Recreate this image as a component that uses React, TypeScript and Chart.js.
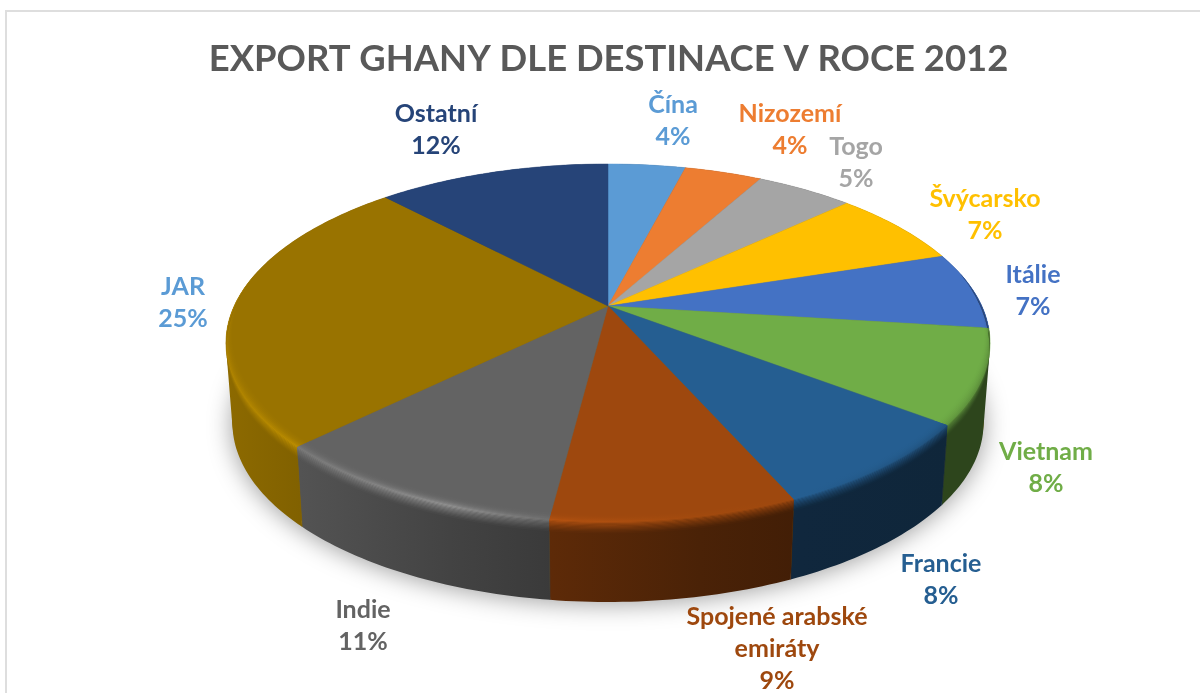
import React, { useEffect, useRef } from "react";
import { Chart, registerables } from "chart.js";

Chart.register(...registerables);

const categories: (string | string[])[] = ["Čína", "Nizozemí", "Togo", "Švýcarsko", "Itálie", "Vietnam", "Francie", ["Spojené arabské", "emiráty"], "Indie", "JAR", "Ostatní"];
const shares = [4, 4, 5, 7, 7, 8.4, 8, 8.6, 10.6, 25.4, 12];
const sliceColors = ["#5b9bd5", "#ed7d31", "#a5a5a5", "#ffc000", "#4472c4", "#70ad47", "#255e91", "#9e480e", "#636363", "#997300", "#264478"];
const labelColors = ["#5b9bd5", "#ed7d31", "#a5a5a5", "#ffc000", "#4472c4", "#70ad47", "#255e91", "#9e480e", "#636363", "#5b9bd5", "#264478"];
const labelCenters: number[][] = [[673, 105], [790, 114], [856, 147], [985, 199], [1033, 275], [1046, 452], [941, 564], [777, 617], [363, 610], [183, 287], [436, 114]];
const chartTitle = "EXPORT GHANY DLE DESTINACE V ROCE 2012";

// projection of the pie disc (perspective view)
const CX = 608, Y0 = 306, K = 0.2067, A = 373.8, B = 171.35, DEPTH = 80, TAPER = 0.017;
const BEVEL_IN = 0.035, BEVEL_DOWN = 11, BEVEL_STRIPS = 18;
const shadeX = [225, 300, 450, 552, 700, 800, 950, 990];
const wallShade = [0.92, 0.84, 0.68, 0.59, 0.47, 0.42, 0.4, 0.4];
const rimShade = [1.15, 1.25, 1.5, 1.15, 1.03, 1, 0.85, 0.8];

const project = (ang: number, r = 1, depth = 0): [number, number] => {
  const den = 1 - K * r * Math.sin(ang);
  const s = 1 - (TAPER * depth) / DEPTH;
  return [CX + (A * r * Math.cos(ang) * s) / den, Y0 + (B * r * Math.sin(ang)) / den + depth];
};

const hexRgb = (h: string) => [1, 3, 5].map((i) => parseInt(h.slice(i, i + 2), 16));
const css = (c: number[]) => `rgb(${c.map((v) => Math.max(0, Math.min(255, Math.round(v)))).join(",")})`;

const stripColor = (base: number[], i: number, t: number) => {
  // t: -1 top face, 0 rim, 1 wall
  const m = t <= 0
    ? 1 + (rimShade[i] - 1) * Math.pow(1 + t, 2.5)
    : rimShade[i] + (wallShade[i] - rimShade[i]) * Math.pow(t, 0.7);
  return base.map((v) => v * m);
};

const xGradient = (ctx: CanvasRenderingContext2D, base: number[], t: number) => {
  const g = ctx.createLinearGradient(shadeX[0], 0, shadeX[shadeX.length - 1], 0);
  shadeX.forEach((x, i) => {
    g.addColorStop((x - shadeX[0]) / (shadeX[shadeX.length - 1] - shadeX[0]), css(stripColor(base, i, t)));
  });
  return g;
};

const samples = (a0: number, a1: number) => {
  const n = Math.max(2, Math.ceil(Math.abs(a1 - a0) / (Math.PI / 180)));
  return Array.from({ length: n + 1 }, (_, i) => a0 + ((a1 - a0) * i) / n);
};

const signedArea = (p: [number, number][]) =>
  p.reduce((s, [x, y], i) => {
    const [nx, ny] = p[(i + 1) % p.length];
    return s + x * ny - nx * y;
  }, 0);

const pie3d = {
  id: "pie3d",
  beforeDatasetDraw(chart: any) {
    const ctx: CanvasRenderingContext2D = chart.ctx;
    const arcs = chart.getDatasetMeta(0).data;
    ctx.save();
    ctx.lineJoin = "round";

    // soft ground shadow
    ctx.save();
    ctx.shadowColor = "rgba(0,0,0,0.38)";
    ctx.shadowBlur = 24;
    ctx.shadowOffsetY = 8;
    ctx.fillStyle = "#8a6a10";
    ctx.beginPath();
    samples(0, Math.PI * 2).forEach((a, i) => {
      const [x, y] = project(a, 1, DEPTH - 6);
      i ? ctx.lineTo(x, y) : ctx.moveTo(x, y);
    });
    ctx.closePath();
    ctx.fill();
    ctx.restore();

    // walls: the sweep of the rim, as same-winding quads in a single path
    arcs.forEach((arc: any, idx: number) => {
      const g = xGradient(ctx, hexRgb(sliceColors[idx]), 1);
      ctx.fillStyle = g;
      ctx.strokeStyle = g;
      ctx.lineWidth = 0.6;
      const pts = samples(arc.startAngle, arc.endAngle);
      ctx.beginPath();
      for (let i = 0; i + 1 < pts.length; i++) {
        let p = [project(pts[i]), project(pts[i + 1]), project(pts[i + 1], 1, DEPTH), project(pts[i], 1, DEPTH)];
        if (signedArea(p) < 0) p = p.reverse();
        p.forEach(([x, y], j) => (j ? ctx.lineTo(x, y) : ctx.moveTo(x, y)));
        ctx.closePath();
      }
      ctx.fill();
      const [sx, sy] = project(pts[0]);
      const [bx, by] = project(pts[0], 1, DEPTH);
      ctx.beginPath();
      ctx.moveTo(sx, sy);
      ctx.lineTo(bx, by);
      ctx.stroke();
    });

    // top faces
    arcs.forEach((arc: any, idx: number) => {
      ctx.fillStyle = sliceColors[idx];
      ctx.strokeStyle = sliceColors[idx];
      ctx.lineWidth = 0.5;
      ctx.beginPath();
      ctx.moveTo(CX, Y0);
      samples(arc.startAngle, arc.endAngle).forEach((a) => {
        const [x, y] = project(a);
        ctx.lineTo(x, y);
      });
      ctx.closePath();
      ctx.fill();
      ctx.stroke();
    });

    // bevelled rim
    const w = (a: number) => Math.max(0, Math.min(1, (Math.sin(a) + 0.2) / 0.7));
    const ringPoint = (a: number, t: number) =>
      t <= 0 ? project(a, 1 + BEVEL_IN * t * w(a), 0) : project(a, 1, BEVEL_DOWN * t * w(a));
    arcs.forEach((arc: any, idx: number) => {
      const base = hexRgb(sliceColors[idx]);
      const pts = samples(arc.startAngle, arc.endAngle).filter((a) => Math.sin(a) > -0.2);
      if (pts.length < 2) return;
      for (let s = 0; s < BEVEL_STRIPS; s++) {
        const t0 = -1 + (2 * s) / BEVEL_STRIPS;
        const t1 = -1 + (2 * (s + 1)) / BEVEL_STRIPS;
        const g = xGradient(ctx, base, (t0 + t1) / 2);
        ctx.fillStyle = g;
        ctx.beginPath();
        pts.forEach((a, i) => {
          const [x, y] = ringPoint(a, t0);
          i ? ctx.lineTo(x, y) : ctx.moveTo(x, y);
        });
        [...pts].reverse().forEach((a) => {
          const [x, y] = ringPoint(a, t1 + 0.03);
          ctx.lineTo(x, y);
        });
        ctx.closePath();
        ctx.fill();
      }
    });
    ctx.restore();
    return false;
  },
  afterDraw(chart: any) {
    const ctx: CanvasRenderingContext2D = chart.ctx;
    const total = shares.reduce((s, v) => s + v, 0);
    ctx.save();
    ctx.font = 'bold 25px Lato';
    ctx.textAlign = "center";
    ctx.textBaseline = "middle";
    categories.forEach((cat, i) => {
      const lines = [...(Array.isArray(cat) ? cat : [cat]), `${Math.round((shares[i] / total) * 100)}%`];
      ctx.fillStyle = labelColors[i];
      lines.forEach((ln, j) => ctx.fillText(ln, labelCenters[i][0], labelCenters[i][1] + j * 32));
    });
    ctx.restore();
  },
};

export default function App() {
  const ref = useRef<HTMLCanvasElement>(null);
  useEffect(() => {
    const chart = new Chart(ref.current!, {
      type: "pie",
      data: {
        labels: categories as any,
        datasets: [{ data: shares, backgroundColor: sliceColors, borderWidth: 0 }],
      },
      options: {
        responsive: false,
        animation: false,
        layout: { padding: { left: 17, top: 0, right: 0, bottom: 0 } },
        plugins: {
          legend: { display: false },
          tooltip: { enabled: false },
          title: {
            display: true,
            text: chartTitle,
            color: "#595959",
            font: { family: "Lato", size: 36.4, weight: "bold" },
            padding: { top: 37, bottom: 10 },
          },
        },
      },
      plugins: [pie3d as any],
    });
    return () => chart.destroy();
  }, []);
  return (
    <div style={{ position: "absolute", left: 0, top: 0, width: 1200, height: 693, overflow: "hidden", background: "#fff" }}>
      <div style={{ position: "absolute", left: 5, top: 10, width: 1300, height: 700, border: "2px solid #dedede", boxSizing: "border-box" }} />
      <canvas ref={ref} width={1200} height={693} style={{ position: "absolute", left: 0, top: 0 }} />
    </div>
  );
}
